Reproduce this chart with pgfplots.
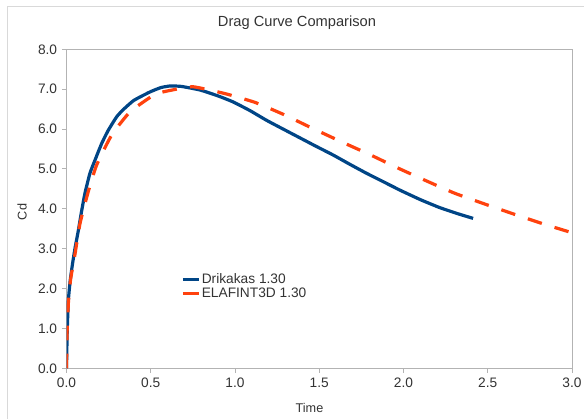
\documentclass[border=0pt]{standalone}
\usepackage{fontspec}
\setmainfont{Liberation Sans}
\usepackage{pgfplots}
\pgfplotsset{compat=1.18}

\definecolor{drikblue}{HTML}{004586}
\definecolor{elafred}{HTML}{FF420E}
\definecolor{framegray}{HTML}{B3B3B3}
\definecolor{textgray}{HTML}{333333}

\begin{document}
\begin{tikzpicture}
% page is 584x419 px at 0.75pt per px
\useasboundingbox (0,0) rectangle (438pt,314.25pt);
\draw[color=black!15, line width=0.75pt] (5.25pt,0) -- (5.25pt,309.75pt) -- (438pt,309.75pt);

\begin{axis}[
	at={(49.875pt,38.025pt)}, anchor=south west,
	scale only axis,
	width=379.125pt, height=239.25pt,
	xmin=0, xmax=3, ymin=0, ymax=8,
	xtick={0,0.5,1,1.5,2,2.5,3},
	ytick={0,1,2,3,4,5,6,7,8},
	axis line style={framegray, line width=0.75pt},
	tick style={framegray, line width=0.75pt},
	tick pos=left, tick align=outside,
	major tick length=3.5pt,
	/pgf/number format/assume math mode=true,
	/pgf/number format/.cd, fixed, fixed zerofill, precision=1, /pgfplots/.cd,
	tick label style={font=\fontsize{10.3}{12}\selectfont, text=textgray},
	legend cell align=left,
	legend image code/.code={\draw[#1, solid] (0pt,0pt) -- (12pt,0pt);},
	legend style={
		at={(rel axis cs:0.2265,0.303)}, anchor=north west,
		draw=none, fill=none, inner sep=0pt, row sep=0pt,
		font=\fontsize{10.3}{12}\selectfont, text=textgray,
		nodes={inner sep=1pt}
	},
]
\addplot[drikblue, line width=2.4pt, line join=round, smooth, tension=0.3] coordinates {
	(0.000,0.00) (0.004,0.90) (0.011,1.70) (0.022,2.20) (0.035,2.60)
	(0.050,3.00) (0.070,3.45) (0.090,3.95) (0.110,4.40) (0.139,4.89)
	(0.169,5.22) (0.209,5.64) (0.248,5.97) (0.298,6.31) (0.340,6.50)
	(0.400,6.72) (0.495,6.93) (0.560,7.04) (0.614,7.08) (0.680,7.07)
	(0.792,6.98) (0.900,6.83) (0.989,6.68) (1.090,6.46) (1.187,6.22)
	(1.290,5.99) (1.385,5.78) (1.480,5.57) (1.582,5.35) (1.680,5.12)
	(1.781,4.89) (1.880,4.68) (1.978,4.47) (2.100,4.23) (2.215,4.03)
	(2.320,3.88) (2.413,3.76)
};
\addlegendentry{Drikakas 1.30}
\addplot[elafred, line width=2.4pt, dash pattern=on 11pt off 10pt, smooth, tension=0.3] coordinates {
	(0.000,0.00) (0.003,0.85) (0.012,1.70) (0.025,2.25) (0.050,2.85)
	(0.080,3.63) (0.129,4.43) (0.179,5.10) (0.268,5.85) (0.377,6.43)
	(0.525,6.87) (0.640,6.99) (0.752,7.06) (0.940,6.89) (1.118,6.67)
	(1.286,6.37) (1.454,6.03) (1.632,5.68) (1.800,5.36) (1.968,5.02)
	(2.136,4.70) (2.304,4.39) (2.482,4.12) (2.660,3.86) (2.838,3.61)
	(3.000,3.40)
};
\addlegendentry{ELAFINT3D 1.30}
\end{axis}

\node[text=textgray, font=\fontsize{11}{13}\selectfont] at (222.75pt,297pt) {Drag Curve Comparison};
\node[text=textgray, font=\fontsize{9.5}{11}\selectfont] at (232.1pt,8.25pt) {Time};
\node[text=textgray, font=\fontsize{9.5}{11}\selectfont, rotate=90] at (16.5pt,155.25pt) {Cd};
\end{tikzpicture}
\end{document}
